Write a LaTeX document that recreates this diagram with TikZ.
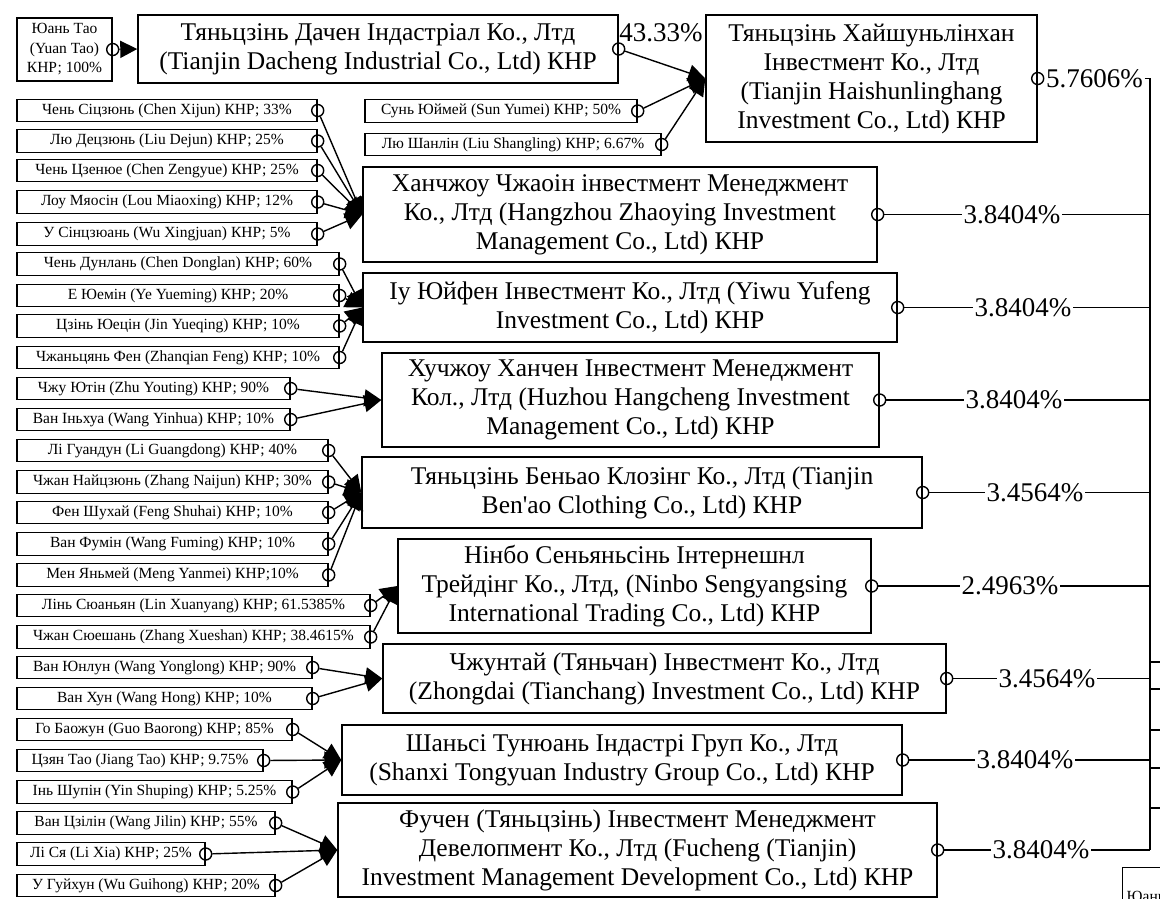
\documentclass[tikz,border=0pt]{standalone}
\usepackage{fontspec}
\setmainfont{Liberation Serif}
\usetikzlibrary{arrows.meta}
\newcommand{\firmfont}{\fontsize{25.5}{29}\selectfont}
\newcommand{\ownerfont}{\fontsize{15.5}{19.5}\selectfont}
\newcommand{\sharefont}{\fontsize{27}{30}\selectfont}

\begin{document}
\begin{tikzpicture}[x=1pt,y=-1pt,line width=1.4pt]
	\tikzstyle{firm}=[draw,align=center,inner sep=2pt,font=\firmfont];
	\tikzstyle{owner}=[draw,align=center,inner sep=1pt,minimum height=22.5pt,font=\ownerfont];
	\tikzstyle{ring}=[draw,circle,inner sep=0pt,minimum size=12pt];
	\tikzstyle{share}=[inner sep=1pt,font=\sharefont];
	\tikzstyle{own}=[-{Triangle[length=17pt,width=17pt]}];
%<--------------------------------------------------------------------------->%

	\useasboundingbox (0,0) rectangle (1160,898);
	\coordinate (bt) at (1150,78.5);
	\coordinate (bb) at (1150,850);
	%% companies
	\node[firm,minimum width=480pt,minimum height=68pt] (dc) at (378,49) {Тяньцзінь Дачен Індастріал Ко., Лтд\\(Tianjin Dacheng Industrial Co., Ltd) КНР};
	\node[firm,minimum width=331pt,minimum height=127pt] (hs) at (871.5,78.5) {Тяньцзінь Хайшуньлінхан\\Інвестмент Ко., Лтд\\(Tianjin Haishunlinghang\\Investment Co., Ltd) КНР};
	\node[firm,minimum width=514pt,minimum height=95pt] (hz) at (620,214.5) {Ханчжоу Чжаоін інвестмент Менеджмент\\Ко., Лтд (Hangzhou Zhaoying Investment\\Management Co., Ltd) КНР};
	\node[firm,minimum width=534pt,minimum height=69pt] (yw) at (630,307.5) {Іу Юйфен Інвестмент Ко., Лтд (Yiwu Yufeng\\Investment Co., Ltd) КНР};
	\node[firm,minimum width=497pt,minimum height=94pt] (hc) at (630.5,400) {Хучжоу Ханчен Інвестмент Менеджмент\\Кол., Лтд (Huzhou Hangcheng Investment\\Management Co., Ltd) КНР};
	\node[firm,minimum width=560pt,minimum height=71pt] (ba) at (642,492.5) {Тяньцзінь Беньао Клозінг Ко., Лтд (Tianjin\\Ben\textquotesingle ao Clothing Co., Ltd) КНР};
	\node[firm,minimum width=473pt,minimum height=94pt] (nb) at (634.5,586) {Нінбо Сеньяньсінь Інтернешнл\\Трейдінг Ко., Лтд, (Ninbo Sengyangsing\\International Trading Co., Ltd) КНР};
	\node[firm,minimum width=563pt,minimum height=69pt] (zd) at (664.5,678.5) {Чжунтай (Тяньчан) Інвестмент Ко., Лтд\\(Zhongdai (Tianchang) Investment Co., Ltd) КНР};
	\node[firm,minimum width=560pt,minimum height=70pt] (sx) at (622,760) {Шаньсі Тунюань Індастрі Груп Ко., Лтд\\(Shanxi Tongyuan Industry Group Co., Ltd) КНР};
	\node[firm,minimum width=599pt,minimum height=94pt] (fc) at (637.5,850) {Фучен (Тяньцзінь) Інвестмент Менеджмент\\Девелопмент Ко., Лтд (Fucheng (Tianjin)\\Investment Management Development Co., Ltd) КНР};
	%% owners
	\node[owner,minimum width=95pt,minimum height=63pt] (yt) at (64.5,49.5) {Юань Тао\\(Yuan Tao)\\КНР; 100\%};
	\node[owner,minimum width=272pt] (hs1) at (501,111) {Сунь Юймей (Sun Yumei) КНР; 50\%};
	\node[owner,minimum width=296pt] (hs2) at (513,144.5) {Лю Шанлін (Liu Shangling) КНР; 6.67\%};
	\node[owner,minimum width=300pt] (hz1) at (167,110.5) {Чень Сіцзюнь (Chen Xijun) КНР; 33\%};
	\node[owner,minimum width=300pt] (hz2) at (167,141) {Лю Децзюнь (Liu Dejun) КНР; 25\%};
	\node[owner,minimum width=300pt] (hz3) at (167,170.5) {Чень Цзенюе (Chen Zengyue) КНР; 25\%};
	\node[owner,minimum width=300pt] (hz4) at (167,202) {Лоу Мяосін (Lou Miaoxing) КНР; 12\%};
	\node[owner,minimum width=300pt] (hz5) at (167,234) {У Сінцзюань (Wu Xingjuan) КНР; 5\%};
	\node[owner,minimum width=322pt] (yw1) at (178,264) {Чень Дунлань (Chen Donglan) КНР; 60\%};
	\node[owner,minimum width=322pt] (yw2) at (178,295.5) {Е Юемін (Ye Yueming) КНР; 20\%};
	\node[owner,minimum width=322pt] (yw3) at (178,326) {Цзінь Юецін (Jin Yueqing) КНР; 10\%};
	\node[owner,minimum width=322pt] (yw4) at (178,357.5) {Чжаньцянь Фен (Zhanqian Feng) КНР; 10\%};
	\node[owner,minimum width=273pt] (hc1) at (153.5,388.5) {Чжу Ютін (Zhu Youting) КНР; 90\%};
	\node[owner,minimum width=273pt] (hc2) at (153.5,419.5) {Ван Іньхуа (Wang Yinhua) КНР; 10\%};
	\node[owner,minimum width=311pt] (ba1) at (172.5,450.5) {Лі Гуандун (Li Guangdong) КНР; 40\%};
	\node[owner,minimum width=311pt] (ba2) at (172.5,482) {Чжан Найцзюнь (Zhang Naijun) КНР; 30\%};
	\node[owner,minimum width=311pt] (ba3) at (172.5,512.5) {Фен Шухай (Feng Shuhai) КНР; 10\%};
	\node[owner,minimum width=311pt] (ba4) at (172.5,544) {Ван Фумін (Wang Fuming) КНР; 10\%};
	\node[owner,minimum width=311pt] (ba5) at (172.5,575) {Мен Яньмей (Meng Yanmei) КНР;10\%};
	\node[owner,minimum width=353pt] (nb1) at (193.5,605.5) {Лінь Сюаньян (Lin Xuanyang) КНР; 61.5385\%};
	\node[owner,minimum width=353pt] (nb2) at (193.5,637) {Чжан Сюешань (Zhang Xueshan) КНР; 38.4615\%};
	\node[owner,minimum width=295pt] (zd1) at (164.5,667.5) {Ван Юнлун (Wang Yonglong) КНР; 90\%};
	\node[owner,minimum width=295pt] (zd2) at (164.5,698.5) {Ван Хун (Wang Hong) КНР; 10\%};
	\node[owner,minimum width=275pt] (sx1) at (154.5,729.5) {Го Баожун (Guo Baorong) КНР; 85\%};
	\node[owner,minimum width=246pt] (sx2) at (140,760.5) {Цзян Тао (Jiang Tao) КНР; 9.75\%};
	\node[owner,minimum width=275pt] (sx3) at (154.5,792) {Інь Шупін (Yin Shuping) КНР; 5.25\%};
	\node[owner,minimum width=258pt] (fc1) at (146,823) {Ван Цзілін (Wang Jilin) КНР; 55\%};
	\node[owner,minimum width=188pt] (fc2) at (111,854) {Лі Ся (Li Xia) КНР; 25\%};
	\node[owner,minimum width=258pt] (fc3) at (146,885.5) {У Гуйхун (Wu Guihong) КНР; 20\%};
	\node[draw,anchor=north west,font=\ownerfont,align=left,inner xsep=4pt,inner ysep=0pt,text height=34pt,text width=80pt] (yt9) at (1122,867) {Юань Тао};
	%% rings
	\foreach \n in {yt,hs1,hs2,hz1,hz2,hz3,hz4,hz5,yw1,yw2,yw3,yw4,hc1,hc2,ba1,ba2,ba3,ba4,ba5,nb1,nb2,zd1,zd2,sx1,sx2,sx3,fc1,fc2,fc3,dc,hs,hz,yw,hc,ba,nb,zd,sx,fc}
		\node[ring] (r\n) at (\n.east) {};
	%% holdings
	\draw[own] (ryt) -- (dc.west);
	\draw[own] (rdc) -- (hs.west);
	\draw[own] (rhs1) -- (hs.west);
	\draw[own] (rhs2) -- (hs.west);
	\foreach \i in {1,...,5} \draw[own] (rhz\i) -- (hz.west);
	\foreach \i in {1,...,4} \draw[own] (ryw\i) -- (yw.west);
	\foreach \i in {1,2} \draw[own] (rhc\i) -- (hc.west);
	\foreach \i in {1,...,5} \draw[own] (rba\i) -- (ba.west);
	\foreach \i in {1,2} \draw[own] (rnb\i) -- (nb.west);
	\foreach \i in {1,2} \draw[own] (rzd\i) -- (zd.west);
	\foreach \i in {1,2,3} \draw[own] (rsx\i) -- (sx.west);
	\foreach \i in {1,2,3} \draw[own] (rfc\i) -- (fc.west);
	%% shares
	\node[share] (dcp) at (661,33) {43.33\%};
	\node[share,anchor=west] (hsp) at (rhs.east) {5.7606\%};
	\node[share] (hzp) at (1012,214.5) {3.8404\%};
	\node[share] (ywp) at (1023,307.5) {3.8404\%};
	\node[share] (hcp) at (1014,400) {3.8404\%};
	\node[share] (bap) at (1035,492.5) {3.4564\%};
	\node[share] (nbp) at (1010,586) {2.4963\%};
	\node[share] (zdp) at (1047,678.5) {3.4564\%};
	\node[share] (sxp) at (1025,760) {3.8404\%};
	\node[share] (fcp) at (1041,850) {3.8404\%};
	\draw (hsp) -- (bt) -- (bb);
	\draw (rhz) -- (hzp) -- (hzp -| bt);
	\draw (ryw) -- (ywp) -- (ywp -| bt);
	\draw (rhc) -- (hcp) -- (hcp -| bt);
	\draw (rba) -- (bap) -- (bap -| bt);
	\draw (rnb) -- (nbp) -- (nbp -| bt);
	\draw (rzd) -- (zdp) -- (zdp -| bt);
	\draw (rsx) -- (sxp) -- (sxp -| bt);
	\draw (rfc) -- (fcp) -- (bb);
	\foreach \y in {662,689,730,768,808} \draw (1150,\y) -- (1175,\y);
\end{tikzpicture}
\end{document}
